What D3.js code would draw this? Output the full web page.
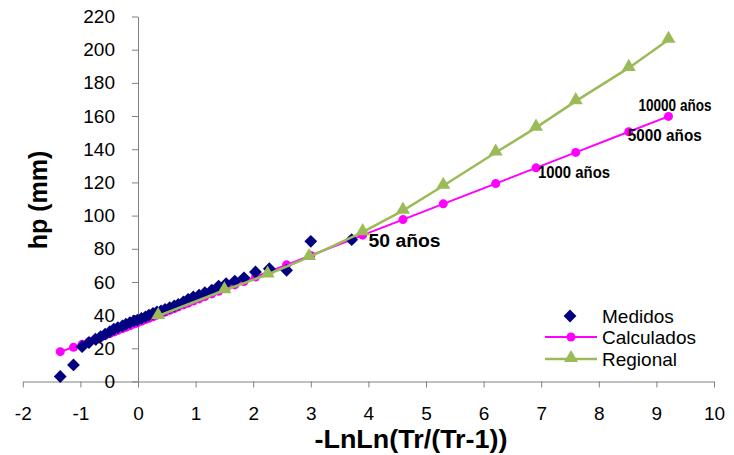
<!DOCTYPE html>
<html>
<head>
<meta charset="utf-8">
<script src="https://cdn.jsdelivr.net/npm/d3@7"></script>
<style>
  html, body { margin: 0; padding: 0; background: #fff; }
  svg { display: block; font-family: "Liberation Sans", Arial, sans-serif; }
</style>
</head>
<body>
<svg id="chart" width="734" height="455"></svg>
<script>
// ---- Data ----
const medidosX = [-1.35, -1.12, -0.97, -0.85, -0.74, -0.65, -0.57, -0.49, -0.42, -0.35,
                  -0.27, -0.21, -0.14, -0.07, -0.01, 0.06, 0.13, 0.19, 0.26, 0.33,
                  0.40, 0.47, 0.55, 0.63, 0.70, 0.79, 0.87, 0.96, 1.06, 1.16,
                  1.28, 1.40, 1.53, 1.68, 1.84, 2.04, 2.28, 2.58, 3.00, 3.71];
const medidosY = [3, 10, 21, 23.5, 25.5, 27, 28.5, 30, 31.5, 32.5,
                  33.5, 34.5, 35.5, 36.5, 37, 38, 39, 40, 41, 42,
                  42.5, 43.5, 44.5, 45.5, 46.5, 48, 49.5, 51, 52, 53.5,
                  55, 57.5, 59, 60.5, 62.5, 66, 68, 67, 84.5, 85.5];

const calcX = [-1.35, -1.12, -0.97, -0.85, -0.74, -0.65, -0.57, -0.49, -0.42, -0.35,
               -0.27, -0.21, -0.14, -0.07, -0.01, 0.06, 0.13, 0.19, 0.26, 0.33,
               0.40, 0.47, 0.55, 0.63, 0.70, 0.79, 0.87, 0.96, 1.06, 1.16,
               1.28, 1.40, 1.53, 1.68, 1.84, 2.04, 2.28, 2.58, 3.00, 3.71,
               3.90, 4.60, 5.30, 6.21, 6.91, 7.60, 8.52, 9.21];
const calcY = [18, 20.6, 22.4, 24.0, 25.5, 26.7, 27.8, 28.9, 29.8, 30.8,
               31.9, 32.7, 33.6, 34.6, 35.4, 36.3, 37.3, 38.1, 39.0, 40.0,
               40.9, 41.8, 42.9, 44.0, 45.0, 46.2, 47.2, 48.5, 49.8, 51.2,
               52.8, 54.4, 56.2, 58.2, 60.3, 63.0, 66.3, 70.3, 76.0, 85.6,
               88.2, 97.6, 107.1, 119.3, 128.8, 138.1, 150.5, 159.8];

const regX = [0.35, 1.50, 2.25, 2.97, 3.90, 4.60, 5.30, 6.21, 6.91, 7.60, 8.52, 9.21];
const regY = [39.5, 55, 64.5, 75, 90, 103, 118, 138, 153, 169, 189, 206];

const labels = [
  { text: "50 años",    x: 3.9,  y: 88.2 },
  { text: "1000 años",  x: 6.91, y: 128.8 },
  { text: "5000 años",  x: 8.52, y: 150.5 },
  { text: "10000 años", x: 9.21, y: 159.8 }
];

const xTicks = [-2, -1, 0, 1, 2, 3, 4, 5, 6, 7, 8, 9, 10];
const yTicks = [0, 20, 40, 60, 80, 100, 120, 140, 160, 180, 200, 220];
const seriesNames = ["Medidos", "Calculados", "Regional"];

// ---- Layout ----
const svg = d3.select("#chart");
const x = d3.scaleLinear().domain([-2, 10]).range([22.8, 714]);
const y = d3.scaleLinear().domain([0, 220]).range([381.5, 16.5]);
const axisColor = "#808080";
const cNavy = "#000080", cMag = "#FF00FF", cGreen = "#9BBB59";
const fmt = d => String(d);

// X axis
const gx = svg.append("g").attr("transform", `translate(0,${y(0)})`)
  .call(d3.axisBottom(x).tickValues(xTicks).tickSize(6).tickSizeOuter(0).tickPadding(19)
        .tickFormat(fmt));
gx.selectAll("path, line").attr("stroke", axisColor).attr("stroke-width", 1);
gx.selectAll("text").attr("fill", "#000").style("font-size", "19px");
gx.attr("font-family", null);

// Y axis
const gy = svg.append("g").attr("transform", `translate(${x(0)},0)`)
  .call(d3.axisLeft(y).tickValues(yTicks).tickSize(6).tickSizeOuter(0).tickPadding(17)
        .tickFormat(fmt));
gy.selectAll("path, line").attr("stroke", axisColor).attr("stroke-width", 1);
gy.selectAll("text").attr("fill", "#000").style("font-size", "19px");
gy.attr("font-family", null);

// Axis titles
svg.append("text").attr("x", 411).attr("y", 448).attr("text-anchor", "middle")
  .style("font-size", "25px").style("font-weight", "bold")
  .attr("textLength", 193).attr("lengthAdjust", "spacingAndGlyphs")
  .text("-LnLn(Tr/(Tr-1))");
svg.append("text").attr("transform", "translate(47,200) rotate(-90)").attr("text-anchor", "middle")
  .style("font-size", "25px").style("font-weight", "bold")
  .text("hp (mm)");

// ---- Series ----
const calc = calcX.map((v, i) => [v, calcY[i]]);
const reg = regX.map((v, i) => [v, regY[i]]);
const med = medidosX.map((v, i) => [v, medidosY[i]]);
const line = d3.line().x(d => x(d[0])).y(d => y(d[1]));

// Calculados
svg.append("path").datum(calc).attr("d", line).attr("fill", "none")
  .attr("stroke", cMag).attr("stroke-width", 2);
svg.append("g").selectAll("circle").data(calc).join("circle")
  .attr("cx", d => x(d[0])).attr("cy", d => y(d[1])).attr("r", 4.5).attr("fill", cMag);

// Medidos
const diamond = d3.symbol(d3.symbolSquare, 82);
svg.append("g").selectAll("path").data(med).join("path")
  .attr("d", diamond)
  .attr("transform", d => `translate(${x(d[0])},${y(d[1])}) rotate(45)`)
  .attr("fill", cNavy);

// Regional
svg.append("path").datum(reg).attr("d", line).attr("fill", "none")
  .attr("stroke", cGreen).attr("stroke-width", 2.5);
const tri = d3.symbol(d3.symbolTriangle, 85);
svg.append("g").selectAll("path").data(reg).join("path")
  .attr("d", tri)
  .attr("transform", d => `translate(${x(d[0])},${y(d[1]) - 1})`)
  .attr("fill", cGreen);

// ---- Labels ----
const labelStyle = [
  { dx: 6,   dy: 12,   size: 18, len: 72 },
  { dx: 2,   dy: 10,   size: 17, len: 72 },
  { dx: -1,  dy: 9,    size: 17, len: 74 },
  { dx: -30, dy: -5.5, size: 17, len: 73 }
];
labels.forEach((l, i) => {
  const s = labelStyle[i];
  svg.append("text")
    .attr("x", x(l.x) + s.dx).attr("y", y(l.y) + s.dy)
    .style("font-size", s.size + "px").style("font-weight", "bold")
    .attr("textLength", s.len).attr("lengthAdjust", "spacingAndGlyphs")
    .text(l.text);
});

// ---- Legend ----
const lg = svg.append("g");
const rows = [316, 337, 359];
lg.append("path").attr("d", diamond)
  .attr("transform", `translate(570,${rows[0]}) rotate(45)`).attr("fill", cNavy);
lg.append("line").attr("x1", 545).attr("x2", 597).attr("y1", rows[1]).attr("y2", rows[1])
  .attr("stroke", cMag).attr("stroke-width", 2);
lg.append("circle").attr("cx", 571).attr("cy", rows[1]).attr("r", 4.5).attr("fill", cMag);
lg.append("line").attr("x1", 545).attr("x2", 597).attr("y1", rows[2]).attr("y2", rows[2])
  .attr("stroke", cGreen).attr("stroke-width", 2.5);
lg.append("path").attr("d", tri).attr("transform", `translate(571,${rows[2] - 1})`).attr("fill", cGreen);
seriesNames.forEach((n, i) => {
  lg.append("text").attr("x", 602).attr("y", rows[i] + 7)
    .style("font-size", "19px").text(n);
});
</script>
</body>
</html>
